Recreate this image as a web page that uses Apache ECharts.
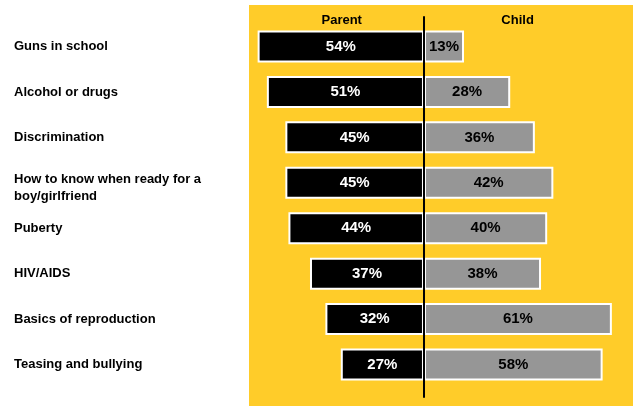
<!DOCTYPE html>
<html><head><meta charset="utf-8">
<script src="https://cdn.jsdelivr.net/npm/echarts@6/dist/echarts.min.js"></script>
<style>html,body{margin:0;padding:0;background:#fff}#c{width:634px;height:406px}</style>
</head><body><div id="c"></div>
<script>
const categories = ["Guns in school","Alcohol or drugs","Discrimination","How to know when ready for a boy/girlfriend","Puberty","HIV/AIDS","Basics of reproduction","Teasing and bullying"];
const parentValues = [54,51,45,45,44,37,32,27];
const childValues = [13,28,36,42,40,38,61,58];
const headers = ["Parent","Child"];

const font = 'Liberation Sans, Arial, sans-serif';
const XMIN = -56.8, XMAX = 67.86;
const lbl = {color:'#000',fontFamily:font,fontWeight:'bold',fontSize:13,lineHeight:17};
const chart = echarts.init(document.getElementById('c'), null, {renderer:'canvas'});
chart.setOption({
  animation:false,
  backgroundColor:'#fff',
  grid:[
    {left:249,right:1,top:5,bottom:0,show:true,backgroundColor:'#FFCC29',borderWidth:0},
    {left:249,right:1,top:23.8,bottom:18.8},
    {left:249,right:1,top:17,bottom:9}
  ],
  xAxis:[
    {gridIndex:0,type:'value',min:XMIN,max:XMAX,show:false},
    {gridIndex:1,type:'value',min:XMIN,max:XMAX,show:false},
    {gridIndex:2,type:'value',min:XMIN,max:XMAX,show:false}
  ],
  yAxis:[
    {gridIndex:0,type:'value',show:false},
    {gridIndex:1,type:'category',data:categories,inverse:true,
      axisLine:{show:false},axisTick:{show:false},splitLine:{show:false},
      axisLabel:Object.assign({align:'left',margin:235,
        formatter:v=>{
          const i = v.indexOf(' boy/');
          return i<0 ? v : '{s| }\n{b|'+v.slice(0,i)+'}\n{b|'+v.slice(i+1)+'}';
        },
        rich:{s:{fontSize:1,lineHeight:10},b:Object.assign({},lbl)}},lbl)},
    {gridIndex:2,type:'category',data:['a'],z:10,
      axisLine:{show:true,onZero:true,lineStyle:{color:'#000',width:2}},
      axisTick:{show:false},axisLabel:{show:false},splitLine:{show:false}}
  ],
  series:[
    {type:'bar',name:headers[0],xAxisIndex:1,yAxisIndex:1,barWidth:32,barGap:'-100%',
      data:parentValues.map(v=>-v),
      itemStyle:{color:'#000',borderColor:'#fff',borderWidth:2},
      label:{show:true,position:'inside',color:'#fff',fontFamily:font,fontWeight:'bold',fontSize:15,
        formatter:p=>Math.abs(p.value)+'%'}},
    {type:'bar',name:headers[1],xAxisIndex:1,yAxisIndex:1,barWidth:32,barGap:'-100%',
      data:childValues,
      itemStyle:{color:'#969696',borderColor:'#fff',borderWidth:2},
      label:{show:true,position:'inside',color:'#000',fontFamily:font,fontWeight:'bold',fontSize:15,
        formatter:p=>p.value+'%'}}
  ]
});
const pParent = chart.convertToPixel({xAxisIndex:1}, -26.7);
const pChild = chart.convertToPixel({xAxisIndex:1}, 30.4);
chart.setOption({graphic:[
  {type:'text',x:pParent,y:20,style:{text:headers[0],fill:'#000',font:'bold 13px '+font,textAlign:'center',textVerticalAlign:'middle'}},
  {type:'text',x:pChild,y:20,style:{text:headers[1],fill:'#000',font:'bold 13px '+font,textAlign:'center',textVerticalAlign:'middle'}}
]});
</script></body></html>
